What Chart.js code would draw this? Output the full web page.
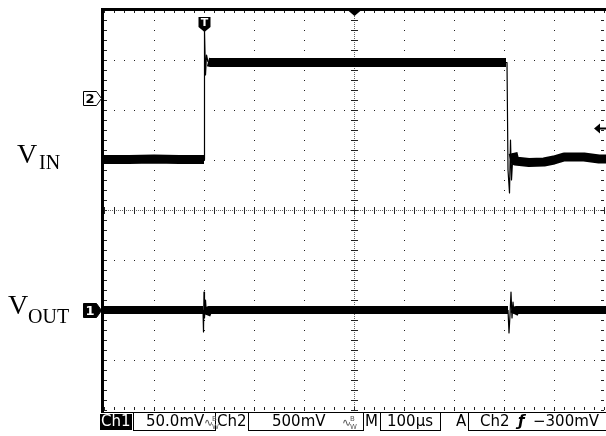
<!DOCTYPE html>
<html><head><meta charset="utf-8">
<script src="https://cdn.jsdelivr.net/npm/chart.js@4/dist/chart.umd.min.js"></script>
<style>
html,body{margin:0;padding:0;background:#fff;}
#wrap{position:relative;width:606px;height:436px;overflow:hidden;background:#fff}
canvas{position:absolute;left:0;top:0}
.ser{position:absolute;font-family:"Liberation Serif","Times New Roman",serif;color:#000;white-space:nowrap;line-height:1}
.sb{position:absolute;font-family:"DejaVu Sans",sans-serif;font-size:15px;line-height:15px;color:#000;white-space:nowrap;top:414px}
.box{position:absolute;border-left:1px solid #000;border-bottom:1px solid #000;border-right:1px solid #000;box-sizing:border-box;top:413px;height:18px}
.inv{background:#000;color:#fff;height:16px}
.bw{position:absolute;font-family:"DejaVu Sans",sans-serif;font-size:11px;line-height:11px;top:417px;color:#555}
.bwl{position:absolute;font-family:"DejaVu Sans",sans-serif;font-size:7px;line-height:7px;top:416px;color:#555}
</style></head>
<body><div id="wrap">
<canvas id="c" width="606" height="436"></canvas>
<div class="ser" id="vin"><span id="vinV" class="ser" style="font-size:28px;left:17px;top:140px">V</span><span id="vinS" class="ser" style="font-size:20px;left:39px;top:152px">IN</span></div>
<div class="ser" id="vout"><span id="voutV" class="ser" style="font-size:28px;left:8px;top:291px">V</span><span id="voutS" class="ser" style="font-size:20px;left:28px;top:306px">OUT</span></div>
<div id="status"></div>
</div>
<script>
// ---- data ----
const timePerDiv = 100;            // µs / div
const timeRange = [-200, 800];     // µs, trigger at 0
const divRange = [-4, 4];          // vertical divisions
const ch1mVPerDiv = 50;            // Ch1 50.0 mV/div
const ch2VPerDiv = 0.5;            // Ch2 500 mV/div
const ch1Position = -2.0;          // div
const ch2Position = 2.24;          // div
const triggerLevel = -0.3;         // V on Ch2

// Ch2: V_IN (volts vs time in µs)
const ch2Times = [-200,-150,-100,-50,-4,0,1,3,5,8,12,100,200,300,400,500,604,606,608,611,613,615,618,622,650,680,700,720,760,790,806];
const ch2Volts = [-0.615,-0.615,-0.61,-0.615,-0.615,-0.615,0.68,0.23,0.43,0.36,0.355,0.355,0.355,0.355,0.355,0.355,0.355,0.355,-0.72,-0.95,-0.42,-0.82,-0.55,-0.63,-0.645,-0.64,-0.62,-0.59,-0.59,-0.61,-0.61];

// Ch1: V_OUT (mV vs time in µs)
const ch1Times = [-200,-150,-100,-50,-2,-1,0,1,3,5,9,100,200,300,400,500,608,610,612,614,616,618,620,624,700,806];
const ch1mV    = [0,0,0,0,0,-22,18,-8,10,-5,0,0,0,0,0,0,0,-23,-5,18,-8,8,-4,0,0,0];

// status bar texts
const statusTexts = {ch1:'Ch1', ch1Scale:'50.0mV', ch2:'Ch2', ch2Scale:'500mV', m:'M', time:'100µs', a:'A', trigSrc:'Ch2', slope:'ƒ', trigLvl:'−300mV'};

// ---- status bar (HTML text) ----
const st = document.getElementById('status');
function add(cls, txt, left, extra){const d=document.createElement('div');d.className=cls;d.textContent=txt;d.style.left=left+'px';if(extra)Object.assign(d.style,extra);st.appendChild(d);return d;}
add('box','',133,{width:'83px'});
add('box','',248,{width:'116px'});
add('box','',380,{width:'61px'});
add('box','',468,{width:'140px'});
add('sb inv',statusTexts.ch1,100,{width:'32px',top:'414px',paddingLeft:'1px',boxSizing:'border-box'});
add('sb',statusTexts.ch1Scale,146);
add('bw','∿',204); add('bwl','B',212); add('bwl','W',212,{top:'424px'});
add('sb',statusTexts.ch2,217);
add('sb',statusTexts.ch2Scale,272);
add('bw','∿',342); add('bwl','B',350); add('bwl','W',350,{top:'424px'});
add('sb',statusTexts.m,365);
add('sb',statusTexts.time,387);
add('sb',statusTexts.a,456);
add('sb',statusTexts.trigSrc,480);
add('sb',statusTexts.slope,518,{fontStyle:'italic',fontWeight:'bold'});
add('sb',statusTexts.trigLvl,533);

// ---- chart ----
const thin = 1.2;
function segWidth(times, thick){return c => (times[c.p1DataIndex]-times[c.p0DataIndex] < 4 ? thin : thick);}

const graticule = {
  id:'graticule',
  beforeDatasetsDraw(chart){
    const {ctx, chartArea:a, scales:{x,y}} = chart;
    const L=Math.round(a.left), R=Math.round(a.right), T=Math.round(a.top), B=Math.round(a.bottom);
    const minorX = (x.getPixelForValue(timeRange[0]+timePerDiv/5)-x.getPixelForValue(timeRange[0]));
    const minorY = (y.getPixelForValue(divRange[0])-y.getPixelForValue(divRange[0]+0.2));
    const cx = Math.round(x.getPixelForValue((timeRange[0]+timeRange[1])/2));
    const cy = Math.round(y.getPixelForValue(0));
    ctx.save();
    ctx.fillStyle='#222';
    // major dotted lines
    for(let v=timeRange[0]+timePerDiv; v<timeRange[1]; v+=timePerDiv){
      const px=Math.round(x.getPixelForValue(v)); if(px===cx) continue;
      for(let py=T; py<=B; py+=minorY) ctx.fillRect(px, Math.round(py), 1, 1);
    }
    for(let d=divRange[0]+1; d<divRange[1]; d++){
      const py=Math.round(y.getPixelForValue(d)); if(py===cy) continue;
      for(let px=L; px<=R; px+=minorX) ctx.fillRect(Math.round(px), py, 1, 1);
    }
    // center crosshair
    ctx.fillStyle='#666';
    for(let py=T; py<=B; py+=2) ctx.fillRect(cx, py, 1, 1);
    for(let px=L; px<=R; px+=2) ctx.fillRect(px, cy, 1, 1);
    ctx.fillStyle='#222';
    for(let py=T; py<=B; py+=minorY) ctx.fillRect(cx-3, Math.round(py), 7, 1);
    for(let px=L; px<=R; px+=minorX) ctx.fillRect(Math.round(px), cy-3, 1, 7);
    // edge ticks
    for(let px=L; px<=R; px+=minorX){ctx.fillRect(Math.round(px), T, 1, 3); ctx.fillRect(Math.round(px), B-3, 1, 3);}
    for(let py=T; py<=B; py+=minorY){ctx.fillRect(L, Math.round(py), 3, 1); ctx.fillRect(R-3, Math.round(py), 3, 1);}
    // frame
    ctx.fillStyle='#000';
    ctx.fillRect(L-3, T-2, chart.width-L+3, 3);
    ctx.fillRect(L-3, T-2, 3, B-T+5);
    ctx.fillRect(L-3, B+2, chart.width-L+3, 1);
    ctx.restore();
  },
  afterDatasetsDraw(chart){
    const {ctx, chartArea:a, scales:{x,y}} = chart;
    ctx.save();
    // channel ground markers
    function marker(div, label, filled){
      const yy=Math.round(y.getPixelForValue(div))+0.5, x0=83.5, x1=96.5, tip=101.5;
      ctx.beginPath(); ctx.moveTo(x0,yy-7); ctx.lineTo(x1,yy-7); ctx.lineTo(tip,yy); ctx.lineTo(x1,yy+7); ctx.lineTo(x0,yy+7); ctx.closePath();
      ctx.fillStyle=filled?'#000':'#fff'; ctx.fill(); ctx.strokeStyle='#000'; ctx.lineWidth=1; ctx.stroke();
      ctx.fillStyle=filled?'#fff':'#000'; ctx.font='bold 13px "DejaVu Sans"'; ctx.textAlign='center'; ctx.textBaseline='middle';
      ctx.fillText(label, 90, yy+1);
    }
    marker(ch2Position,'2',false);
    marker(ch1Position,'1',true);
    // trigger position marker (T)
    const tx=Math.round(x.getPixelForValue(0))+0.5;
    ctx.beginPath(); ctx.moveTo(tx-6,17); ctx.lineTo(tx+6,17); ctx.lineTo(tx+6,27); ctx.lineTo(tx,32); ctx.lineTo(tx-6,27); ctx.closePath();
    ctx.fillStyle='#000'; ctx.fill();
    ctx.fillStyle='#fff'; ctx.font='bold 11px "DejaVu Sans"'; ctx.textAlign='center'; ctx.textBaseline='middle'; ctx.fillText('T', tx, 23);
    // horizontal position marker
    const hx=Math.round(x.getPixelForValue((timeRange[0]+timeRange[1])/2))+0.5;
    ctx.fillStyle='#000'; ctx.beginPath(); ctx.moveTo(hx-7,a.top); ctx.lineTo(hx+7,a.top); ctx.lineTo(hx,a.top+6); ctx.closePath(); ctx.fill();
    // trigger level arrow
    const ty=Math.round(y.getPixelForValue(ch2Position+triggerLevel/ch2VPerDiv))+0.5;
    ctx.beginPath(); ctx.moveTo(594,ty); ctx.lineTo(600,ty-5); ctx.lineTo(600,ty+5); ctx.closePath(); ctx.fill();
    ctx.fillRect(600, ty-1, 6, 2);
    ctx.restore();
  }
};

new Chart(document.getElementById('c'), {
  type:'line',
  data:{datasets:[
    {label:'V_IN (Ch2)', data: ch2Times.map((t,i)=>({x:t, y: ch2Position + ch2Volts[i]/ch2VPerDiv})),
     borderColor:'#000', borderWidth:9, segment:{borderWidth: segWidth(ch2Times, 9)}, pointRadius:0, tension:0,
     borderCapStyle:'butt', borderJoinStyle:'round', clip:4},
    {label:'V_OUT (Ch1)', data: ch1Times.map((t,i)=>({x:t, y: ch1Position + ch1mV[i]/ch1mVPerDiv})),
     borderColor:'#000', borderWidth:8, segment:{borderWidth: segWidth(ch1Times, 8)}, pointRadius:0, tension:0,
     borderCapStyle:'butt', borderJoinStyle:'round', clip:4}
  ]},
  options:{
    responsive:false, devicePixelRatio:1, animation:false,
    layout:{padding:{left:104, right:2, top:10, bottom:26}},
    scales:{
      x:{type:'linear', min:timeRange[0], max:timeRange[1], display:false},
      y:{type:'linear', min:divRange[0], max:divRange[1], display:false}
    },
    plugins:{legend:{display:false}, tooltip:{enabled:false}}
  },
  plugins:[graticule]
});
</script>
</body></html>
